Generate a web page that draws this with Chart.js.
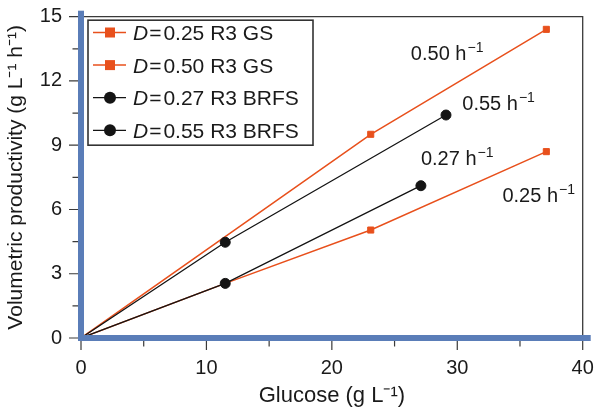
<!DOCTYPE html>
<html><head><meta charset="utf-8">
<script src="https://cdn.jsdelivr.net/npm/chart.js@4.4.0/dist/chart.umd.min.js"></script>
<style>html,body{margin:0;padding:0;background:#fff;}#wrap{width:595px;height:409px;position:relative;}</style>
</head><body><div id="wrap"><canvas id="c"></canvas></div>
<script>
// ---- data ----
const seriesLabels = ['0.25 R3 GS', '0.50 R3 GS', '0.27 R3 BRFS', '0.55 R3 BRFS'];
const gs025Glucose = [0, 11.5, 23.1, 37.1];
const gs025Prod    = [0, 2.55, 5.04, 8.70];
const gs050Glucose = [0, 23.1, 37.1];
const gs050Prod    = [0, 9.51, 14.41];
const brfs027Glucose = [0, 11.5, 27.1];
const brfs027Prod    = [0, 2.55, 7.11];
const brfs055Glucose = [0, 11.5, 29.1];
const brfs055Prod    = [0, 4.47, 10.41];
const xTickValues = [0, 10, 20, 30, 40];
const yTickValues = [0, 3, 6, 9, 12, 15];
const rateLabels = ['0.50', '0.55', '0.27', '0.25'];

// ---- placement / style ----
const rateAnchors = [{x: 26.3, y: 12.98}, {x: 30.4, y: 10.64}, {x: 27.1, y: 8.08}, {x: 33.6, y: 6.36}];
const FONT = "'Liberation Sans', Arial, Helvetica, sans-serif";
const ORANGE = '#e8501c', BLACK = '#141414', BLUE = '#5a7db8', TXT = '#1a1a1a', AX = '#3a3a3a';

const toPoints = (xs, ys) => xs.map((v, i) => ({x: v, y: ys[i]}));
function gsSet(label, xs, ys) {
  return {label, data: toPoints(xs, ys), showLine: true, borderColor: ORANGE, backgroundColor: ORANGE,
    borderWidth: 1.5, pointStyle: 'rect', pointRadius: c => c.dataIndex === 0 ? 0 : 4.3,
    pointBorderWidth: 1, pointBorderColor: ORANGE, order: 2, _kind: 'gs'};
}
function brSet(label, xs, ys) {
  return {label, data: toPoints(xs, ys), showLine: true, borderColor: BLACK, backgroundColor: BLACK,
    borderWidth: 1.3, pointStyle: 'circle', pointRadius: c => c.dataIndex === 0 ? 0 : 5,
    pointBorderWidth: 1, pointBorderColor: BLACK, order: 1, _kind: 'br'};
}

function drawRich(ctx, segs, x, y) {
  let cx = x;
  segs.forEach(s => {
    ctx.font = (s.italic ? 'italic ' : '') + s.size + 'px ' + FONT;
    ctx.fillText(s.t, cx, s.sup ? y - 8 : y);
    cx += ctx.measureText(s.t).width + (s.gap || 0);
  });
}

const decor = {
  id: 'decor',
  afterDatasetsDraw(chart) {
    const {ctx, chartArea: a, scales: {x, y}} = chart;
    const x0 = x.getPixelForValue(0), y0 = y.getPixelForValue(0);
    ctx.save();
    // top & right frame
    ctx.strokeStyle = AX; ctx.lineWidth = 1.3;
    ctx.beginPath(); ctx.moveTo(x0, a.top); ctx.lineTo(a.right, a.top); ctx.lineTo(a.right, y0); ctx.stroke();
    // ticks
    ctx.lineWidth = 1.2; ctx.strokeStyle = AX;
    ctx.beginPath();
    yTickValues.forEach((v, i) => {
      const py = y.getPixelForValue(v);
      ctx.moveTo(x0 - 3, py); ctx.lineTo(x0 - 12, py);
      if (i < yTickValues.length - 1) {
        const pm = y.getPixelForValue((v + yTickValues[i + 1]) / 2);
        ctx.moveTo(x0 - 3, pm); ctx.lineTo(x0 - 8.5, pm);
      }
    });
    xTickValues.forEach((v, i) => {
      const px = x.getPixelForValue(v);
      ctx.moveTo(px, y0 + 3); ctx.lineTo(px, y0 + 12);
      if (i < xTickValues.length - 1) {
        const pm = x.getPixelForValue((v + xTickValues[i + 1]) / 2);
        ctx.moveTo(pm, y0 + 3); ctx.lineTo(pm, y0 + 8.5);
      }
    });
    ctx.stroke();
    // blue axes
    ctx.fillStyle = BLUE;
    ctx.fillRect(x0 - 3, a.top - 6, 6, y0 + 3 - (a.top - 6));
    ctx.fillRect(x0 - 3, y0 - 3, a.right + 8 - (x0 - 3), 6);

    // rate labels
    ctx.fillStyle = TXT; ctx.textBaseline = 'alphabetic'; ctx.textAlign = 'left';
    rateLabels.forEach((r, i) => {
      const px = x.getPixelForValue(rateAnchors[i].x), py = y.getPixelForValue(rateAnchors[i].y);
      drawRich(ctx, [{t: r, size: 20}, {t: ' h', size: 20, gap: 1}, {t: '\u22121', size: 14, sup: true}], px, py);
    });

    // legend
    const lx = a.left + 7, ly = a.top + 3.5, lw = 225, lh = 125;
    ctx.fillStyle = '#fff'; ctx.fillRect(lx, ly, lw, lh);
    ctx.strokeStyle = '#333'; ctx.lineWidth = 1.6; ctx.strokeRect(lx, ly, lw, lh);
    chart.data.datasets.forEach((ds, i) => {
      const cy = ly + 12.3 + i * 32.6;
      const col = ds.borderColor;
      ctx.strokeStyle = col; ctx.lineWidth = ds.borderWidth;
      ctx.beginPath(); ctx.moveTo(lx + 5, cy); ctx.lineTo(lx + 38, cy); ctx.stroke();
      ctx.fillStyle = col;
      if (ds._kind === 'gs') { ctx.fillRect(lx + 22 - 5, cy - 5, 10, 10); }
      else { ctx.beginPath(); ctx.arc(lx + 22, cy, 6, 0, Math.PI * 2); ctx.fill(); }
      ctx.fillStyle = TXT;
      drawRich(ctx, [{t: 'D', size: 21, italic: true, gap: 1}, {t: '=', size: 21, gap: 2}, {t: ds.label, size: 21}], lx + 45, cy + 7.5);
    });
    ctx.restore();
  }
};

function zeroPad(s) { s.paddingTop = 0; s.paddingRight = 0; s.paddingLeft = 0; s.paddingBottom = 0; }

new Chart(document.getElementById('c'), {
  type: 'scatter',
  data: {datasets: [
    gsSet(seriesLabels[0], gs025Glucose, gs025Prod),
    gsSet(seriesLabels[1], gs050Glucose, gs050Prod),
    brSet(seriesLabels[2], brfs027Glucose, brfs027Prod),
    brSet(seriesLabels[3], brfs055Glucose, brfs055Prod)
  ]},
  options: {
    responsive: true, maintainAspectRatio: false, animation: false, events: [],
    layout: {padding: {top: 16.7, right: 12.3, left: 0, bottom: 0}},
    plugins: {legend: {display: false}, tooltip: {enabled: false}},
    scales: {
      x: {type: 'linear', min: 0, max: 40,
        afterBuildTicks: s => { s.ticks = xTickValues.map(v => ({value: v})); },
        afterFit: s => { s.height = 71; zeroPad(s); },
        grid: {display: false, drawTicks: false}, border: {display: false},
        ticks: {font: {family: FONT, size: 20}, color: TXT, padding: 18, maxRotation: 0, autoSkip: false},
        title: {display: true, text: 'Glucose (g L\u207B\u00B9)', font: {family: FONT, size: 22}, color: TXT, padding: {top: 0, bottom: 0}}
      },
      y: {type: 'linear', min: 0, max: 15,
        afterBuildTicks: s => { s.ticks = yTickValues.map(v => ({value: v})); },
        afterFit: s => { s.width = 81; zeroPad(s); },
        grid: {display: false, drawTicks: false}, border: {display: false},
        ticks: {font: {family: FONT, size: 20}, color: TXT, padding: 19, autoSkip: false},
        title: {display: true, text: 'Volumetric productivity (g L\u207B\u00B9 h\u207B\u00B9)', font: {family: FONT, size: 21}, color: TXT, padding: {top: 4, bottom: 0}}
      }
    }
  },
  plugins: [decor]
});
</script></body></html>
